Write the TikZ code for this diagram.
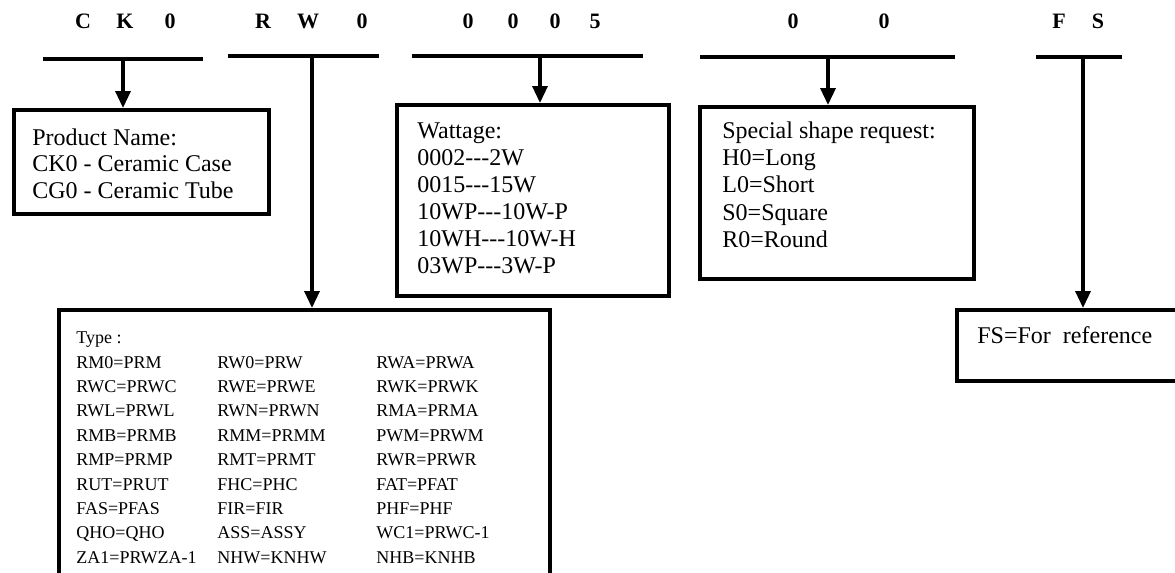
\documentclass[tikz,border=0pt]{standalone}
\usepackage{fontspec}
\setmainfont{Liberation Serif}
\usepackage{tikz}
\usetikzlibrary{arrows.meta, positioning, calc}
\tikzset{
  codebar/.style={line width=2pt},
  codearrow/.style={
    line width=1.7pt, -{Triangle[length=8.5pt, width=7.5pt]}
  },
  codebox/.style={
    draw, line width=2pt, fill=white, inner sep=0pt
  },
  headletter/.style={
    font=\fontsize{11}{13}\selectfont\bfseries, anchor=base, inner sep=0pt
  },
  boxtext/.style={
    font=\fontsize{12}{14}\selectfont, anchor=base west, inner sep=0pt
  },
  typetext/.style={
    font=\fontsize{9}{11}\selectfont, anchor=base west, inner sep=0pt
  },
}

\begin{document}
\begin{tikzpicture}[x=0.5pt, y=-0.5pt]
  \useasboundingbox (0,0) rectangle (1175,573);
  \fill[white] (0,0) rectangle (1175,573);
  \clip (0,0) rectangle (1175,573);

  % Code letters
  \foreach \ch/\px [count=\i] in {C/83, K/125, 0/170, R/263, W/308, 0/362,
      0/468, 0/513, 0/555, 5/595, 0/793, 0/884, F/1059, S/1098}
    \node[headletter] (head\i) at (\px, 28) {\ch};

  % Bars under each group
  \draw[codebar] (43,59) -- (203,59);
  \draw[codebar] (228,56) -- (379,56);
  \draw[codebar] (412,56) -- (643,56);
  \draw[codebar] (700,57) -- (955,57);
  \draw[codebar] (1036,57) -- (1122,57);
  \coordinate (bar1) at (123,59);
  \coordinate (bar2) at (312,56);
  \coordinate (bar3) at (540,56);
  \coordinate (bar4) at (828,57);
  \coordinate (bar5) at (1083,57);

  % Product name
  \node[codebox, minimum width=127.5pt, minimum height=52pt,
    anchor=north west] (prodbox) at (12,108) {};
  \node[boxtext] (prod1) at (32,145) {Product Name:};
  \node[boxtext] (prod2) at (32,171.5) {CK0 - Ceramic Case};
  \node[boxtext] (prod3) at (32,198) {CG0 - Ceramic Tube};

  % Wattage
  \node[codebox, minimum width=136pt, minimum height=95.5pt,
    anchor=north west] (wattbox) at (395,103) {};
  \foreach \txt [count=\i from 0] in {Wattage:, 0002-{}-{}-2W, 0015-{}-{}-15W,
      10WP-{}-{}-10W-P, 10WH-{}-{}-10W-H, 03WP-{}-{}-3W-P}
    \node[boxtext] (watt\i) at (417, {138+27*\i}) {\txt};

  % Special shape
  \node[codebox, minimum width=137pt, minimum height=86pt,
    anchor=north west] (shapebox) at (698,105) {};
  \foreach \txt [count=\i from 0] in {Special shape request:, H0=Long,
      L0=Short, S0=Square, R0=Round}
    \node[boxtext] (shape\i) at (722, {138+27.4*\i}) {\txt};

  % Type
  \node[codebox, minimum width=245.5pt, minimum height=150pt,
    anchor=north west] (typebox) at (57,308) {};
  \node[typetext] (type0) at (76,343.6) {Type :};
  \foreach \a/\b/\c [count=\i] in {RM0=PRM/RW0=PRW/RWA=PRWA,
      RWC=PRWC/RWE=PRWE/RWK=PRWK, RWL=PRWL/RWN=PRWN/RMA=PRMA,
      RMB=PRMB/RMM=PRMM/PWM=PRWM, RMP=PRMP/RMT=PRMT/RWR=PRWR,
      RUT=PRUT/FHC=PHC/FAT=PFAT, FAS=PFAS/FIR=FIR/PHF=PHF,
      QHO=QHO/ASS=ASSY/WC1=PRWC-1, ZA1=PRWZA-1/NHW=KNHW/NHB=KNHB}
  {
    \node[typetext] (typea\i) at (76, {343.6+24.4*\i}) {\a};
    \node[typetext] (typeb\i) at (217, {343.6+24.4*\i}) {\b};
    \node[typetext] (typec\i) at (376, {343.6+24.4*\i}) {\c};
  }

  % Reference
  \node[codebox, minimum width=115pt, minimum height=35.5pt,
    anchor=north west] (refbox) at (955,308) {};
  \node[boxtext] (ref1) at (977,343) {FS=For\ \ reference};

  % Arrows
  \draw[codearrow] (bar1) -- (bar1 |- prodbox.north);
  \draw[codearrow] (bar2) -- (bar2 |- typebox.north);
  \draw[codearrow] (bar3) -- (bar3 |- wattbox.north);
  \draw[codearrow] (bar4) -- (bar4 |- shapebox.north);
  \draw[codearrow] (bar5) -- (bar5 |- refbox.north);
\end{tikzpicture}
\end{document}
